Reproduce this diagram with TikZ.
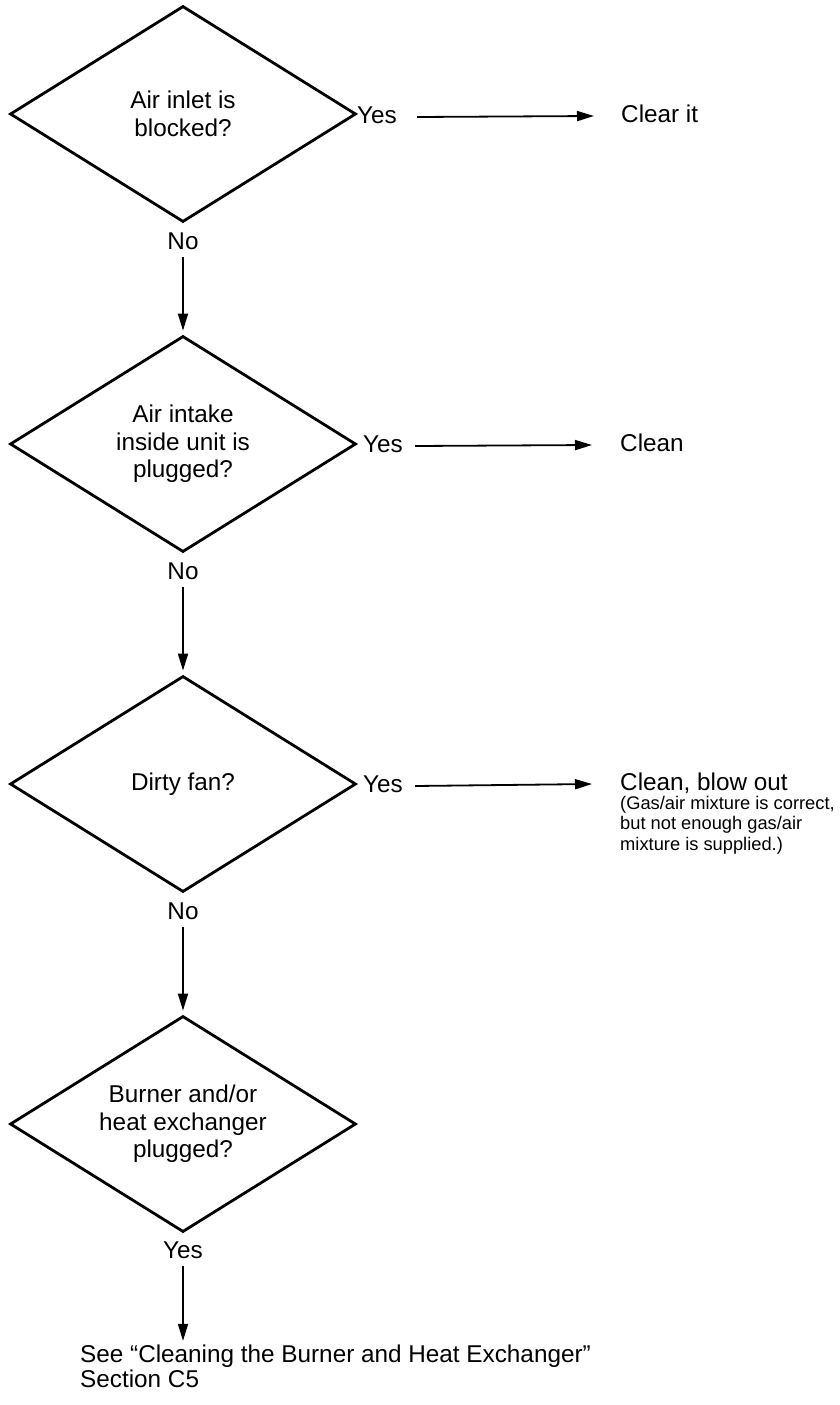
\documentclass[tikz,border=0pt]{standalone}
\usepackage{fontspec}
\setmainfont{Liberation Sans}
\usetikzlibrary{shapes.geometric,arrows.meta}

\begin{document}
\begin{tikzpicture}[x=1pt,y=-1pt,
  decision/.style={diamond, aspect=1.6, draw, line width=2.8pt, minimum width=346pt,
    minimum height=216pt, inner sep=0pt, align=center,
    font=\fontsize{24.3}{27.5}\selectfont},
  lbl/.style={inner sep=0pt, text height=17pt, text depth=5pt,
    font=\fontsize{24.3}{27.5}\selectfont},
  note/.style={inner sep=0pt, align=left, font=\fontsize{18.3}{20.5}\selectfont},
  flow/.style={line width=1.8pt, -{Triangle[length=17pt,width=10pt]}},
]
\useasboundingbox (0,0) rectangle (840,1405);

% decisions
\node[decision] (d1) at (183,114) {Air inlet is\\blocked?};
\node[decision] (d2) at (183,444) {Air intake\\inside unit is\\plugged?};
\node[decision] (d3) at (183,784) {Dirty fan?};
\node[decision] (d4) at (183,1124) {Burner and/or\\heat exchanger\\plugged?};

% yes branches
\node[lbl, anchor=base west] (y1) at (357,123) {Yes};
\node[lbl, anchor=base west] (y2) at (363,452) {Yes};
\node[lbl, anchor=base west] (y3) at (363,792) {Yes};

\node[lbl, anchor=base west] (r1) at (621,122) {Clear it};
\node[lbl, anchor=base west] (r2) at (620,451) {Clean};
\node[lbl, anchor=base west] (r3) at (620,790) {Clean, blow out};
\node[note, anchor=north west] (r3n) at (620,796)
  {(Gas/air mixture is correct,\\but not enough gas/air\\mixture is supplied.)};

\draw[flow] ([xshift=20pt]y1.east) -- ([xshift=-27pt]r1.west);
\draw[flow] ([xshift=12pt]y2.east) -- ([xshift=-28pt]r2.west);
\draw[flow] ([xshift=12pt]y3.east) -- ([xshift=-28pt]r3.west);

% no branches
\node[lbl] (n1) at (183,243) {No};
\node[lbl] (n2) at (183,573) {No};
\node[lbl] (n3) at (183,913) {No};
\node[lbl] (y4) at (183,1252) {Yes};

\draw[flow, shorten <=3pt, shorten >=4pt] (n1.south) -- (d2.north);
\draw[flow, shorten <=3pt, shorten >=4pt] (n2.south) -- (d3.north);
\draw[flow, shorten <=3pt, shorten >=4pt] (n3.south) -- (d4.north);

% final reference
\node[lbl, anchor=base west] (e1) at (80,1362) {See “Cleaning the Burner and Heat Exchanger”};
\node[lbl, anchor=base west] (e2) at (80,1387) {Section C5};
\draw[flow, shorten <=3pt, shorten >=4pt] (y4.south) -- (y4.south |- e1.north);
\end{tikzpicture}
\end{document}
